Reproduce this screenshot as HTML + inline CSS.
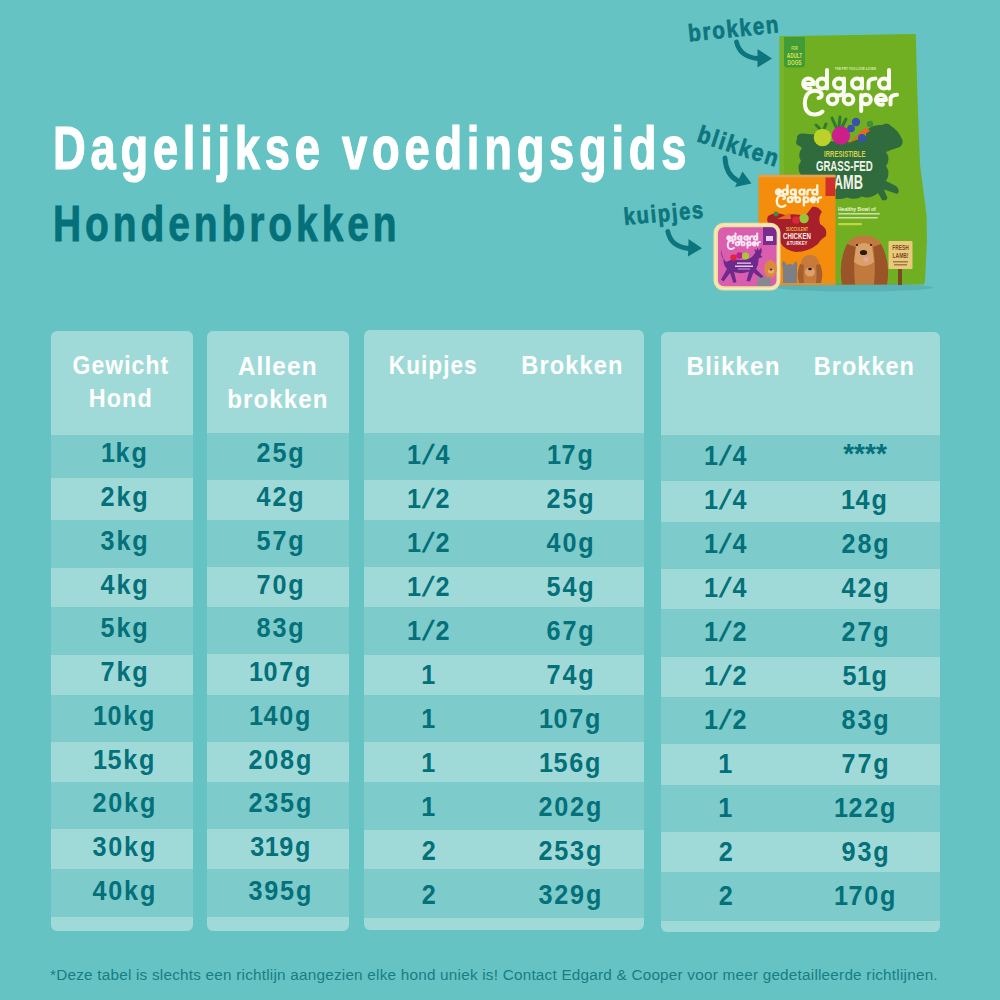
<!DOCTYPE html>
<html><head><meta charset="utf-8"><style>
*{margin:0;padding:0;box-sizing:border-box}
html,body{width:1000px;height:1000px;overflow:hidden;background:#66c3c3}
body{position:relative;font-family:"Liberation Sans",sans-serif}
.panel{position:absolute;background:#a0dad8;border-radius:6px;overflow:hidden}
.dk{position:absolute;left:0;right:0;background:#7dcbcb}
.t{position:absolute;width:600px;text-align:center;line-height:1;white-space:nowrap}
.tl{position:absolute;line-height:1;white-space:nowrap}
.t span,.tl span{display:inline-block}
.t span{transform-origin:50% 50%}
.tl span{transform-origin:0 50%}
</style></head><body>
<div class="panel" style="left:50.5px;top:331px;width:142.5px;height:599.5px"><div class="dk" style="top:104.0px;height:43.0px"></div><div class="dk" style="top:188.5px;height:48.5px"></div><div class="dk" style="top:276.0px;height:47.5px"></div><div class="dk" style="top:363.5px;height:47.5px"></div><div class="dk" style="top:450.5px;height:47.5px"></div><div class="dk" style="top:538.0px;height:47.5px"></div></div><div class="panel" style="left:206.5px;top:331px;width:142px;height:599.5px"><div class="dk" style="top:102.0px;height:47.0px"></div><div class="dk" style="top:188.5px;height:47.5px"></div><div class="dk" style="top:275.5px;height:47.5px"></div><div class="dk" style="top:363.5px;height:47.5px"></div><div class="dk" style="top:450.5px;height:47.0px"></div><div class="dk" style="top:538.0px;height:47.5px"></div></div><div class="panel" style="left:364px;top:329.7px;width:280px;height:600.8px"><div class="dk" style="top:103.3px;height:47.5px"></div><div class="dk" style="top:190.3px;height:47.5px"></div><div class="dk" style="top:277.3px;height:48.5px"></div><div class="dk" style="top:365.3px;height:47.5px"></div><div class="dk" style="top:452.8px;height:47.5px"></div><div class="dk" style="top:539.8px;height:48.5px"></div></div><div class="panel" style="left:661px;top:331.5px;width:279px;height:600.0px"><div class="dk" style="top:103.0px;height:46.5px"></div><div class="dk" style="top:190.0px;height:47.0px"></div><div class="dk" style="top:277.5px;height:48.0px"></div><div class="dk" style="top:365.5px;height:47.0px"></div><div class="dk" style="top:453.5px;height:46.5px"></div><div class="dk" style="top:540.5px;height:48.5px"></div></div><div class="t" style="left:-180.0px;top:351.5px;font-size:26px;color:#ffffff;font-weight:bold;letter-spacing:1.2px;"><span style="transform:scaleX(0.882);padding-left:1.2px">Gewicht</span></div><div class="t" style="left:-180.0px;top:384.5px;font-size:26px;color:#ffffff;font-weight:bold;letter-spacing:1.2px;"><span style="transform:scaleX(0.9);padding-left:1.2px">Hond</span></div><div class="t" style="left:-23.0px;top:352.5px;font-size:26px;color:#ffffff;font-weight:bold;letter-spacing:1.2px;"><span style="transform:scaleX(0.936);padding-left:1.2px">Alleen</span></div><div class="t" style="left:-22.8px;top:385.5px;font-size:26px;color:#ffffff;font-weight:bold;letter-spacing:1.2px;"><span style="transform:scaleX(0.927);padding-left:1.2px">brokken</span></div><div class="t" style="left:133.0px;top:352.0px;font-size:26px;color:#ffffff;font-weight:bold;letter-spacing:1.2px;"><span style="transform:scaleX(0.8685);padding-left:1.2px">Kuipjes</span></div><div class="t" style="left:271.8px;top:352.0px;font-size:26px;color:#ffffff;font-weight:bold;letter-spacing:1.2px;"><span style="transform:scaleX(0.909);padding-left:1.2px">Brokken</span></div><div class="t" style="left:433.0px;top:352.5px;font-size:26px;color:#ffffff;font-weight:bold;letter-spacing:1.2px;"><span style="transform:scaleX(0.9315);padding-left:1.2px">Blikken</span></div><div class="t" style="left:564.0px;top:352.5px;font-size:26px;color:#ffffff;font-weight:bold;letter-spacing:1.2px;"><span style="transform:scaleX(0.9);padding-left:1.2px">Brokken</span></div><div class="t" style="left:-175.8px;top:439.3px;font-size:28px;color:#047079;font-weight:bold;letter-spacing:2.0px;"><span style="transform:scaleX(0.9);padding-left:2.0px"><i style="font-style:normal;margin:0 -1.5px">1</i>kg</span></div><div class="t" style="left:-175.8px;top:483.0px;font-size:28px;color:#047079;font-weight:bold;letter-spacing:2.0px;"><span style="transform:scaleX(0.9);padding-left:2.0px">2kg</span></div><div class="t" style="left:-175.8px;top:526.8px;font-size:28px;color:#047079;font-weight:bold;letter-spacing:2.0px;"><span style="transform:scaleX(0.9);padding-left:2.0px">3kg</span></div><div class="t" style="left:-175.8px;top:570.5px;font-size:28px;color:#047079;font-weight:bold;letter-spacing:2.0px;"><span style="transform:scaleX(0.9);padding-left:2.0px">4kg</span></div><div class="t" style="left:-175.8px;top:614.3px;font-size:28px;color:#047079;font-weight:bold;letter-spacing:2.0px;"><span style="transform:scaleX(0.9);padding-left:2.0px">5kg</span></div><div class="t" style="left:-175.8px;top:658.0px;font-size:28px;color:#047079;font-weight:bold;letter-spacing:2.0px;"><span style="transform:scaleX(0.9);padding-left:2.0px">7kg</span></div><div class="t" style="left:-175.8px;top:701.7px;font-size:28px;color:#047079;font-weight:bold;letter-spacing:2.0px;"><span style="transform:scaleX(0.9);padding-left:2.0px"><i style="font-style:normal;margin:0 -1.5px">1</i>0kg</span></div><div class="t" style="left:-175.8px;top:745.5px;font-size:28px;color:#047079;font-weight:bold;letter-spacing:2.0px;"><span style="transform:scaleX(0.9);padding-left:2.0px"><i style="font-style:normal;margin:0 -1.5px">1</i>5kg</span></div><div class="t" style="left:-175.8px;top:789.2px;font-size:28px;color:#047079;font-weight:bold;letter-spacing:2.0px;"><span style="transform:scaleX(0.9);padding-left:2.0px">20kg</span></div><div class="t" style="left:-175.8px;top:833.0px;font-size:28px;color:#047079;font-weight:bold;letter-spacing:2.0px;"><span style="transform:scaleX(0.9);padding-left:2.0px">30kg</span></div><div class="t" style="left:-175.8px;top:876.7px;font-size:28px;color:#047079;font-weight:bold;letter-spacing:2.0px;"><span style="transform:scaleX(0.9);padding-left:2.0px">40kg</span></div><div class="t" style="left:-20.0px;top:439.3px;font-size:28px;color:#047079;font-weight:bold;letter-spacing:2.0px;"><span style="transform:scaleX(0.9);padding-left:2.0px">25g</span></div><div class="t" style="left:-20.0px;top:483.0px;font-size:28px;color:#047079;font-weight:bold;letter-spacing:2.0px;"><span style="transform:scaleX(0.9);padding-left:2.0px">42g</span></div><div class="t" style="left:-20.0px;top:526.8px;font-size:28px;color:#047079;font-weight:bold;letter-spacing:2.0px;"><span style="transform:scaleX(0.9);padding-left:2.0px">57g</span></div><div class="t" style="left:-20.0px;top:570.5px;font-size:28px;color:#047079;font-weight:bold;letter-spacing:2.0px;"><span style="transform:scaleX(0.9);padding-left:2.0px">70g</span></div><div class="t" style="left:-20.0px;top:614.3px;font-size:28px;color:#047079;font-weight:bold;letter-spacing:2.0px;"><span style="transform:scaleX(0.9);padding-left:2.0px">83g</span></div><div class="t" style="left:-20.0px;top:658.0px;font-size:28px;color:#047079;font-weight:bold;letter-spacing:2.0px;"><span style="transform:scaleX(0.9);padding-left:2.0px"><i style="font-style:normal;margin:0 -1.5px">1</i>07g</span></div><div class="t" style="left:-20.0px;top:701.7px;font-size:28px;color:#047079;font-weight:bold;letter-spacing:2.0px;"><span style="transform:scaleX(0.9);padding-left:2.0px"><i style="font-style:normal;margin:0 -1.5px">1</i>40g</span></div><div class="t" style="left:-20.0px;top:745.5px;font-size:28px;color:#047079;font-weight:bold;letter-spacing:2.0px;"><span style="transform:scaleX(0.9);padding-left:2.0px">208g</span></div><div class="t" style="left:-20.0px;top:789.2px;font-size:28px;color:#047079;font-weight:bold;letter-spacing:2.0px;"><span style="transform:scaleX(0.9);padding-left:2.0px">235g</span></div><div class="t" style="left:-20.0px;top:833.0px;font-size:28px;color:#047079;font-weight:bold;letter-spacing:2.0px;"><span style="transform:scaleX(0.9);padding-left:2.0px">3<i style="font-style:normal;margin:0 -1.5px">1</i>9g</span></div><div class="t" style="left:-20.0px;top:876.7px;font-size:28px;color:#047079;font-weight:bold;letter-spacing:2.0px;"><span style="transform:scaleX(0.9);padding-left:2.0px">395g</span></div><div class="t" style="left:128.7px;top:440.6px;font-size:28px;color:#047079;font-weight:bold;letter-spacing:2.0px;"><span style="transform:scaleX(0.9);padding-left:2.0px"><i style="font-style:normal;margin:0 -1.5px">1</i><i style="font-style:normal;display:inline-block;transform:skewX(-20deg);margin:0 3px">/</i>4</span></div><div class="t" style="left:128.7px;top:484.6px;font-size:28px;color:#047079;font-weight:bold;letter-spacing:2.0px;"><span style="transform:scaleX(0.9);padding-left:2.0px"><i style="font-style:normal;margin:0 -1.5px">1</i><i style="font-style:normal;display:inline-block;transform:skewX(-20deg);margin:0 3px">/</i>2</span></div><div class="t" style="left:128.7px;top:528.6px;font-size:28px;color:#047079;font-weight:bold;letter-spacing:2.0px;"><span style="transform:scaleX(0.9);padding-left:2.0px"><i style="font-style:normal;margin:0 -1.5px">1</i><i style="font-style:normal;display:inline-block;transform:skewX(-20deg);margin:0 3px">/</i>2</span></div><div class="t" style="left:128.7px;top:572.6px;font-size:28px;color:#047079;font-weight:bold;letter-spacing:2.0px;"><span style="transform:scaleX(0.9);padding-left:2.0px"><i style="font-style:normal;margin:0 -1.5px">1</i><i style="font-style:normal;display:inline-block;transform:skewX(-20deg);margin:0 3px">/</i>2</span></div><div class="t" style="left:128.7px;top:616.6px;font-size:28px;color:#047079;font-weight:bold;letter-spacing:2.0px;"><span style="transform:scaleX(0.9);padding-left:2.0px"><i style="font-style:normal;margin:0 -1.5px">1</i><i style="font-style:normal;display:inline-block;transform:skewX(-20deg);margin:0 3px">/</i>2</span></div><div class="t" style="left:128.7px;top:660.6px;font-size:28px;color:#047079;font-weight:bold;letter-spacing:2.0px;"><span style="transform:scaleX(0.9);padding-left:2.0px"><i style="font-style:normal;margin:0 -1.5px">1</i></span></div><div class="t" style="left:128.7px;top:704.6px;font-size:28px;color:#047079;font-weight:bold;letter-spacing:2.0px;"><span style="transform:scaleX(0.9);padding-left:2.0px"><i style="font-style:normal;margin:0 -1.5px">1</i></span></div><div class="t" style="left:128.7px;top:748.6px;font-size:28px;color:#047079;font-weight:bold;letter-spacing:2.0px;"><span style="transform:scaleX(0.9);padding-left:2.0px"><i style="font-style:normal;margin:0 -1.5px">1</i></span></div><div class="t" style="left:128.7px;top:792.6px;font-size:28px;color:#047079;font-weight:bold;letter-spacing:2.0px;"><span style="transform:scaleX(0.9);padding-left:2.0px"><i style="font-style:normal;margin:0 -1.5px">1</i></span></div><div class="t" style="left:128.7px;top:836.6px;font-size:28px;color:#047079;font-weight:bold;letter-spacing:2.0px;"><span style="transform:scaleX(0.9);padding-left:2.0px">2</span></div><div class="t" style="left:128.7px;top:880.6px;font-size:28px;color:#047079;font-weight:bold;letter-spacing:2.0px;"><span style="transform:scaleX(0.9);padding-left:2.0px">2</span></div><div class="t" style="left:270.3px;top:440.6px;font-size:28px;color:#047079;font-weight:bold;letter-spacing:2.0px;"><span style="transform:scaleX(0.9);padding-left:2.0px"><i style="font-style:normal;margin:0 -1.5px">1</i>7g</span></div><div class="t" style="left:270.3px;top:484.6px;font-size:28px;color:#047079;font-weight:bold;letter-spacing:2.0px;"><span style="transform:scaleX(0.9);padding-left:2.0px">25g</span></div><div class="t" style="left:270.3px;top:528.6px;font-size:28px;color:#047079;font-weight:bold;letter-spacing:2.0px;"><span style="transform:scaleX(0.9);padding-left:2.0px">40g</span></div><div class="t" style="left:270.3px;top:572.6px;font-size:28px;color:#047079;font-weight:bold;letter-spacing:2.0px;"><span style="transform:scaleX(0.9);padding-left:2.0px">54g</span></div><div class="t" style="left:270.3px;top:616.6px;font-size:28px;color:#047079;font-weight:bold;letter-spacing:2.0px;"><span style="transform:scaleX(0.9);padding-left:2.0px">67g</span></div><div class="t" style="left:270.3px;top:660.6px;font-size:28px;color:#047079;font-weight:bold;letter-spacing:2.0px;"><span style="transform:scaleX(0.9);padding-left:2.0px">74g</span></div><div class="t" style="left:270.3px;top:704.6px;font-size:28px;color:#047079;font-weight:bold;letter-spacing:2.0px;"><span style="transform:scaleX(0.9);padding-left:2.0px"><i style="font-style:normal;margin:0 -1.5px">1</i>07g</span></div><div class="t" style="left:270.3px;top:748.6px;font-size:28px;color:#047079;font-weight:bold;letter-spacing:2.0px;"><span style="transform:scaleX(0.9);padding-left:2.0px"><i style="font-style:normal;margin:0 -1.5px">1</i>56g</span></div><div class="t" style="left:270.3px;top:792.6px;font-size:28px;color:#047079;font-weight:bold;letter-spacing:2.0px;"><span style="transform:scaleX(0.9);padding-left:2.0px">202g</span></div><div class="t" style="left:270.3px;top:836.6px;font-size:28px;color:#047079;font-weight:bold;letter-spacing:2.0px;"><span style="transform:scaleX(0.9);padding-left:2.0px">253g</span></div><div class="t" style="left:270.3px;top:880.6px;font-size:28px;color:#047079;font-weight:bold;letter-spacing:2.0px;"><span style="transform:scaleX(0.9);padding-left:2.0px">329g</span></div><div class="t" style="left:425.5px;top:441.7px;font-size:28px;color:#047079;font-weight:bold;letter-spacing:2.0px;"><span style="transform:scaleX(0.9);padding-left:2.0px"><i style="font-style:normal;margin:0 -1.5px">1</i><i style="font-style:normal;display:inline-block;transform:skewX(-20deg);margin:0 3px">/</i>4</span></div><div class="t" style="left:425.5px;top:485.7px;font-size:28px;color:#047079;font-weight:bold;letter-spacing:2.0px;"><span style="transform:scaleX(0.9);padding-left:2.0px"><i style="font-style:normal;margin:0 -1.5px">1</i><i style="font-style:normal;display:inline-block;transform:skewX(-20deg);margin:0 3px">/</i>4</span></div><div class="t" style="left:425.5px;top:529.8px;font-size:28px;color:#047079;font-weight:bold;letter-spacing:2.0px;"><span style="transform:scaleX(0.9);padding-left:2.0px"><i style="font-style:normal;margin:0 -1.5px">1</i><i style="font-style:normal;display:inline-block;transform:skewX(-20deg);margin:0 3px">/</i>4</span></div><div class="t" style="left:425.5px;top:573.8px;font-size:28px;color:#047079;font-weight:bold;letter-spacing:2.0px;"><span style="transform:scaleX(0.9);padding-left:2.0px"><i style="font-style:normal;margin:0 -1.5px">1</i><i style="font-style:normal;display:inline-block;transform:skewX(-20deg);margin:0 3px">/</i>4</span></div><div class="t" style="left:425.5px;top:617.8px;font-size:28px;color:#047079;font-weight:bold;letter-spacing:2.0px;"><span style="transform:scaleX(0.9);padding-left:2.0px"><i style="font-style:normal;margin:0 -1.5px">1</i><i style="font-style:normal;display:inline-block;transform:skewX(-20deg);margin:0 3px">/</i>2</span></div><div class="t" style="left:425.5px;top:661.8px;font-size:28px;color:#047079;font-weight:bold;letter-spacing:2.0px;"><span style="transform:scaleX(0.9);padding-left:2.0px"><i style="font-style:normal;margin:0 -1.5px">1</i><i style="font-style:normal;display:inline-block;transform:skewX(-20deg);margin:0 3px">/</i>2</span></div><div class="t" style="left:425.5px;top:705.9px;font-size:28px;color:#047079;font-weight:bold;letter-spacing:2.0px;"><span style="transform:scaleX(0.9);padding-left:2.0px"><i style="font-style:normal;margin:0 -1.5px">1</i><i style="font-style:normal;display:inline-block;transform:skewX(-20deg);margin:0 3px">/</i>2</span></div><div class="t" style="left:425.5px;top:749.9px;font-size:28px;color:#047079;font-weight:bold;letter-spacing:2.0px;"><span style="transform:scaleX(0.9);padding-left:2.0px"><i style="font-style:normal;margin:0 -1.5px">1</i></span></div><div class="t" style="left:425.5px;top:793.9px;font-size:28px;color:#047079;font-weight:bold;letter-spacing:2.0px;"><span style="transform:scaleX(0.9);padding-left:2.0px"><i style="font-style:normal;margin:0 -1.5px">1</i></span></div><div class="t" style="left:425.5px;top:838.0px;font-size:28px;color:#047079;font-weight:bold;letter-spacing:2.0px;"><span style="transform:scaleX(0.9);padding-left:2.0px">2</span></div><div class="t" style="left:425.5px;top:882.0px;font-size:28px;color:#047079;font-weight:bold;letter-spacing:2.0px;"><span style="transform:scaleX(0.9);padding-left:2.0px">2</span></div><div class="t" style="left:565.0px;top:439.7px;font-size:28px;color:#047079;font-weight:bold;letter-spacing:0px;"><span style="transform:scaleX(1.0);padding-left:0px">****</span></div><div class="t" style="left:565.0px;top:485.7px;font-size:28px;color:#047079;font-weight:bold;letter-spacing:2.0px;"><span style="transform:scaleX(0.9);padding-left:2.0px"><i style="font-style:normal;margin:0 -1.5px">1</i>4g</span></div><div class="t" style="left:565.0px;top:529.8px;font-size:28px;color:#047079;font-weight:bold;letter-spacing:2.0px;"><span style="transform:scaleX(0.9);padding-left:2.0px">28g</span></div><div class="t" style="left:565.0px;top:573.8px;font-size:28px;color:#047079;font-weight:bold;letter-spacing:2.0px;"><span style="transform:scaleX(0.9);padding-left:2.0px">42g</span></div><div class="t" style="left:565.0px;top:617.8px;font-size:28px;color:#047079;font-weight:bold;letter-spacing:2.0px;"><span style="transform:scaleX(0.9);padding-left:2.0px">27g</span></div><div class="t" style="left:565.0px;top:661.8px;font-size:28px;color:#047079;font-weight:bold;letter-spacing:2.0px;"><span style="transform:scaleX(0.9);padding-left:2.0px">5<i style="font-style:normal;margin:0 -1.5px">1</i>g</span></div><div class="t" style="left:565.0px;top:705.9px;font-size:28px;color:#047079;font-weight:bold;letter-spacing:2.0px;"><span style="transform:scaleX(0.9);padding-left:2.0px">83g</span></div><div class="t" style="left:565.0px;top:749.9px;font-size:28px;color:#047079;font-weight:bold;letter-spacing:2.0px;"><span style="transform:scaleX(0.9);padding-left:2.0px">77g</span></div><div class="t" style="left:565.0px;top:793.9px;font-size:28px;color:#047079;font-weight:bold;letter-spacing:2.0px;"><span style="transform:scaleX(0.9);padding-left:2.0px"><i style="font-style:normal;margin:0 -1.5px">1</i>22g</span></div><div class="t" style="left:565.0px;top:838.0px;font-size:28px;color:#047079;font-weight:bold;letter-spacing:2.0px;"><span style="transform:scaleX(0.9);padding-left:2.0px">93g</span></div><div class="t" style="left:565.0px;top:882.0px;font-size:28px;color:#047079;font-weight:bold;letter-spacing:2.0px;"><span style="transform:scaleX(0.9);padding-left:2.0px"><i style="font-style:normal;margin:0 -1.5px">1</i>70g</span></div><div class="tl" style="left:53px;top:117.0px;font-size:62px;color:#ffffff;font-weight:bold;letter-spacing:6.5px;-webkit-text-stroke:1.2px #fff;"><span style="transform:scaleX(0.731)">Dagelijkse voedingsgids</span></div><div class="tl" style="left:52.5px;top:198.7px;font-size:50px;color:#047079;font-weight:bold;letter-spacing:5px;-webkit-text-stroke:0.8px #047079;"><span style="transform:scaleX(0.78)">Hondenbrokken</span></div><div class="tl" style="left:50px;top:967.0px;font-size:15.3px;color:#177e84;font-weight:normal;letter-spacing:0.22px;"><span style="transform:scaleX(1.0)">*Deze tabel is slechts een richtlijn aangezien elke hond uniek is! Contact Edgard &amp; Cooper voor meer gedetailleerde richtlijnen.</span></div>
<svg style="position:absolute;left:0;top:0" width="1000" height="320" viewBox="0 0 1000 320">
<g font-family="Liberation Sans, sans-serif" font-weight="bold" fill="#0d757e" stroke="#0d757e" stroke-width="0.7">
  <!-- labels -->
  <text transform="translate(689,41.5) rotate(-5.8) scale(0.86,1)" font-size="24" letter-spacing="2">brokken</text>
  <text transform="translate(696,141) rotate(18) scale(0.88,1)" font-size="24" letter-spacing="2">blikken</text>
  <text transform="translate(624.5,225) rotate(-5.2) scale(0.84,1)" font-size="24" letter-spacing="2">kuipjes</text>
</g>
<g fill="none" stroke="#0d757e" stroke-width="4.8" stroke-linecap="round">
  <path d="M736.5,42 Q740,57 758,58.5"/>
  <path d="M725,158 Q726,175 738,181"/>
  <path d="M667.8,231.5 Q671,247 689,248.5"/>
</g>
<g fill="#0d757e">
  <path d="M757.5,49 L772,58.5 L757.5,67.5 Z"/>
  <path d="M735,187 L742.5,171.5 L751.5,183.5 Z"/>
  <path d="M688.5,239 L702,248.3 L688,256.5 Z"/>
</g>

<!-- BAG -->
<path d="M779.5,36.3 L915.7,34 L917.4,95 L920,165 Q924,195 926.5,215 L927,240 L925,280 L924,284.5 L779.5,285.5 Z" fill="#70ae22"/>
<rect x="780" y="37" width="4" height="248" fill="#7cb833" opacity="0.6"/>
<ellipse cx="855" cy="287.5" rx="78" ry="4" fill="#4a9fa6" opacity="0.45"/>
<path d="M784,37 L805,37 L805,64 Q805,67.4 801.5,67.4 L787.5,67.4 Q784,67.4 784,64 Z" fill="#3f9c36"/>
<g font-family="Liberation Sans, sans-serif" font-weight="bold" fill="#dfe04a" text-anchor="middle">
  <text x="794.5" y="50.5" font-size="4.5" transform="translate(794.5,0) scale(0.7,1) translate(-794.5,0)">FOR</text>
  <text x="794.5" y="58.3" font-size="8" transform="translate(794.5,0) scale(0.58,1) translate(-794.5,0)">ADULT</text>
  <text x="794.5" y="65.3" font-size="8" transform="translate(794.5,0) scale(0.6,1) translate(-794.5,0)">DOGS</text>
</g>
<text x="855.5" y="70" font-family="Liberation Sans, sans-serif" font-weight="bold" font-size="3.8" fill="#dfeeb8" text-anchor="middle" transform="translate(855.5,0) scale(0.82,1) translate(-855.5,0)">THE PET YOU LOVE LOVES</text>
<!-- logo edgard cooper (bag) -->
<defs>
<g id="logo" fill="none" stroke-linecap="round" stroke-linejoin="round">
  <path d="M803.5,84 L813.5,84 A5.2,5.2 0 1 0 810.5,88.3"/>
  <circle cx="822" cy="83.5" r="5"/><path d="M827,70 L827,88.5"/>
  <circle cx="839" cy="83.5" r="5"/><path d="M844,78.5 L844,91 Q843.5,95.5 838,95.5 Q835.5,95.5 834.5,94.5"/>
  <circle cx="857" cy="83.5" r="5"/><path d="M862,78.5 L862,88.5"/>
  <path d="M868.5,88.5 L868.5,83 Q868.5,78.5 875.5,78.5"/>
  <circle cx="884" cy="83.5" r="5"/><path d="M889,70 L889,88.5"/>
  <path d="M818.5,98 Q822.5,97.5 821.5,93.5 Q818,89.8 812,91.2 Q805,93.5 804.8,103 Q805,114.5 815,114.5 Q819.5,114.5 822.5,111.5"/>
  <circle cx="832.5" cy="99.5" r="4.8"/>
  <circle cx="848.5" cy="99.5" r="4.8"/>
  <circle cx="866" cy="99.5" r="4.8"/><path d="M861.2,95 L861.2,111"/>
  <path d="M876.5,100 L886,100 A5,5 0 1 0 883,104.3"/>
  <path d="M890.5,104.5 L890.5,99.5 Q890.5,94.8 897,94.8"/>
</g>
</defs>
<use href="#logo" stroke="#fbfbf3" stroke-width="4"/>
<!-- sheep -->
<path d="M797,139 Q796,133.5 803,133.5 L814,134.5 Q819,136 822,141 L850,142 L866,137 L866,131 Q872,124 882,125 Q888,121.5 891,126 Q898,130 902.5,140 Q903.5,146.5 897,148 Q890,150 886,152 Q891,159 886,166 Q891,173 886,181 L896,186 Q900.5,190 897.5,194 L884,189.5 L887.5,198 Q886.5,201.5 882,200 L878,193 Q870,199.5 862,196.5 Q855,200.5 847,197.5 Q838,200.5 830,197.5 Q820,200.5 812,195.5 Q803,196.5 802,188 Q797,182 801,175 Q796,168 801,161 Q797,154 802,148 Q800,146 797.5,145 Q795,143 797,139 Z" fill="#2f6b3c"/>
<!-- veggies -->
<path d="M820,129 L816,125 M824,129 L826,124 M836,127 L832,118 M839,127 L840,117 M842,127 L846,119" stroke="#2f7a33" stroke-width="3" stroke-linecap="round"/>
<circle cx="822.5" cy="137.5" r="8.8" fill="#bcd22a"/>
<circle cx="841" cy="135.5" r="9.2" fill="#cc1f8a"/>
<path d="M848,144 L866,127 L870,131 Z" fill="#ee6422"/>
<circle cx="856" cy="122" r="4.2" fill="#3a4fae"/>
<circle cx="851" cy="128.5" r="3.8" fill="#3a4fae"/>
<circle cx="862" cy="138" r="4" fill="#3a4fae"/>
<circle cx="870" cy="124" r="3.2" fill="#3f8f3a"/>
<g font-family="Liberation Sans, sans-serif" font-weight="bold" text-anchor="middle">
  <text x="844.8" y="156.8" font-size="9.8" fill="#d9d24a" transform="translate(844.8,0) scale(0.616,1) translate(-844.8,0)">IRRESISTIBLE</text>
  <text x="844.3" y="171.3" font-size="15.2" fill="#f3f3ea" transform="translate(844.3,0) scale(0.635,1) translate(-844.3,0)">GRASS-FED</text>
  <text x="844.5" y="189.3" font-size="21" fill="#f3f3ea" transform="translate(844.5,0) scale(0.61,1) translate(-844.5,0)">LAMB</text>
</g>
<!-- small text lines -->
<g font-family="Liberation Sans, sans-serif" font-weight="bold">
  <text x="838" y="211" font-size="5.6" fill="#eef5dc" transform="translate(838,0) scale(0.9,1) translate(-838,0)">Healthy Bowl of</text>
</g>
<g fill="#e4f0cc" opacity="0.8">
  <rect x="838" y="213" width="42" height="1.6" rx="0.8"/>
  <rect x="838" y="217" width="40" height="1.6" rx="0.8"/>
  <rect x="838" y="223" width="24" height="2.2" rx="1" fill="#d7e04b"/>
</g>
<!-- dog on bag -->
<path d="M845,252 Q846,236 864,235.5 Q882,236 884,252 L887,284.5 L842,284.5 Z" fill="#c07a3e"/>
<path d="M847,244 Q838,262 842,284.5 L855,284.5 Q853,262 856,247 Z" fill="#9a5428"/>
<path d="M881,244 Q891,262 887,284.5 L874,284.5 Q876,262 873,247 Z" fill="#9a5428"/>
<path d="M856,246 Q864,240 872,246 L874,262 Q864,270 854,262 Z" fill="#d9a068"/>
<ellipse cx="863.5" cy="252.5" rx="3.6" ry="2.6" fill="#2b1a14"/>
<ellipse cx="866" cy="259.5" rx="2.6" ry="2.4" fill="#e8a0a0"/>
<circle cx="857" cy="245" r="1.1" fill="#2b1a14"/>
<circle cx="871" cy="245" r="1.1" fill="#2b1a14"/>
<!-- sign -->
<rect x="898" y="268" width="4" height="17" fill="#7a4a26"/>
<rect x="888.5" y="241" width="24" height="28" rx="1" fill="#e9c97a"/>
<g font-family="Liberation Sans, sans-serif" font-weight="bold" fill="#7a4a26" text-anchor="middle">
  <text x="900.5" y="250" font-size="7" transform="translate(900.5,0) scale(0.7,1) translate(-900.5,0)">FRESH</text>
  <text x="900.5" y="258" font-size="7" transform="translate(900.5,0) scale(0.7,1) translate(-900.5,0)">LAMB!</text>
</g>
<rect x="893" y="261" width="15" height="1.5" fill="#a07a46"/>
<rect x="894" y="264" width="13" height="1.5" fill="#a07a46"/>

<!-- CAN -->
<rect x="758.5" y="174.8" width="77" height="110.5" fill="#f48c0c"/>
<rect x="758.5" y="174.8" width="77" height="2.4" fill="#d9a457"/>
<rect x="758.5" y="282.8" width="77" height="2.5" fill="#c9954e"/>
<rect x="825.5" y="177.5" width="9.5" height="18.5" fill="#d22e2b"/>
<!-- chicken -->
<path d="M768,216 Q775,211 785,215 Q795,213 805,216 Q810,210 812,207 Q818,206 822,212 Q818,216 820,224 Q828,228 826,236 Q820,240 818,244 Q808,252 796,252 Q784,250 780,242 Q776,232 772,226 Q765,222 768,216 Z" fill="#a81f2c"/>
<circle cx="804" cy="218.5" r="4.8" fill="#97c536"/>
<circle cx="796" cy="220" r="3.8" fill="#d8283a"/>
<path d="M777,219 L790,213 L791,219 Z" fill="#e46e26"/>
<circle cx="776" cy="214" r="2.4" fill="#3f8f3a"/>
<!-- can logo -->
<use href="#logo" stroke="#fff4dc" transform="translate(390.5,151.9) scale(0.48)" stroke-width="5"/>
<g font-family="Liberation Sans, sans-serif" font-weight="bold" text-anchor="middle" fill="#fbf0e6">
  <text x="797" y="231" font-size="4.5" fill="#f0c040" transform="translate(797,0) scale(0.8,1) translate(-797,0)">SUCCULENT</text>
  <text x="797" y="239" font-size="8.5" transform="translate(797,0) scale(0.72,1) translate(-797,0)">CHICKEN</text>
  <text x="797" y="245.5" font-size="6" transform="translate(797,0) scale(0.72,1) translate(-797,0)">&amp;TURKEY</text>
</g>
<!-- can dogs -->
<path d="M783,283 L783,268 Q781,262 784,261 L787,265 Q790,263 793,265 L796,261 Q798,263 797,268 L797,283 Z" fill="#7d7f86"/>
<path d="M800,268 Q801,255 810,255 Q819,255 820,268 L821,283 L799,283 Z" fill="#c67a3c"/>
<path d="M800,264 Q796,274 799,283 L804,283 Q803,272 804,265 Z" fill="#a65e2e"/>
<path d="M820,264 Q824,274 821,283 L816,283 Q817,272 816,265 Z" fill="#a65e2e"/>
<ellipse cx="810" cy="272" rx="5" ry="4.5" fill="#dca06a"/>
<ellipse cx="810" cy="269" rx="1.8" ry="1.3" fill="#2b1a14"/>

<!-- TRAY -->
<rect x="713.5" y="222.8" width="67" height="67.8" rx="10" fill="#f1dfa0"/>
<rect x="715.5" y="224.8" width="63" height="63.8" rx="8.5" fill="none" stroke="#f6ebc2" stroke-width="1.2"/>
<rect x="718" y="227.3" width="58.5" height="59" rx="6" fill="#d95fae"/>
<path d="M763,227.3 L770.5,227.3 Q776.5,227.3 776.5,233 L776.5,245 L763,245 Z" fill="#7a2b8f"/>
<rect x="766" y="236" width="7" height="5" fill="#e7d5ef"/>
<use href="#logo" stroke="#fbe4f3" stroke-width="5.5" transform="translate(446.05,208.85) scale(0.35)"/>
<!-- deer -->
<path d="M722,249.5 Q721,257 726,262 L733,259 Q745,261.5 752,257 L755.5,252.5 L754,249 L756.5,250.5 L757.5,247.5 L759,250.5 L761,247.5 L762,251 L760.5,255 L762.5,257 L758.5,258.5 Q759,265 756,269 L763.5,276.5 L761.5,279 L753.5,272.5 L750,281.5 L746.5,281 L749,271.5 Q741,274.5 734,272 L736.5,282 L733.5,283 L730,273 L723.5,281.5 L721,279.5 L727,269 Q723,265 723.5,259 Q720,255 722,249.5 Z" fill="#6e2a8a"/>
<circle cx="733.5" cy="257.5" r="3.2" fill="#e0233f"/>
<circle cx="739.5" cy="255.5" r="3.2" fill="#b8238a"/>
<circle cx="745.5" cy="256" r="3.6" fill="#a9c934"/>
<rect x="737" y="262.5" width="14" height="1.3" fill="#e5c8ef"/>
<rect x="735" y="265.5" width="18" height="1.5" fill="#e5c8ef"/>
<rect x="738" y="268.5" width="12" height="1" fill="#c9a0d8"/>
<!-- dog & cat on tray -->
<ellipse cx="770.5" cy="269" rx="6.3" ry="9" fill="#d98a3e"/>
<ellipse cx="771" cy="271" rx="3" ry="2.6" fill="#e8b070"/>
<ellipse cx="771" cy="269.5" rx="1.4" ry="1.1" fill="#5a2a10"/>
<path d="M757,286 L758,276 L761,278 L765,276 L767,279 L770,276 L771,286 Z" fill="#868890"/>
</svg>

</body></html>
